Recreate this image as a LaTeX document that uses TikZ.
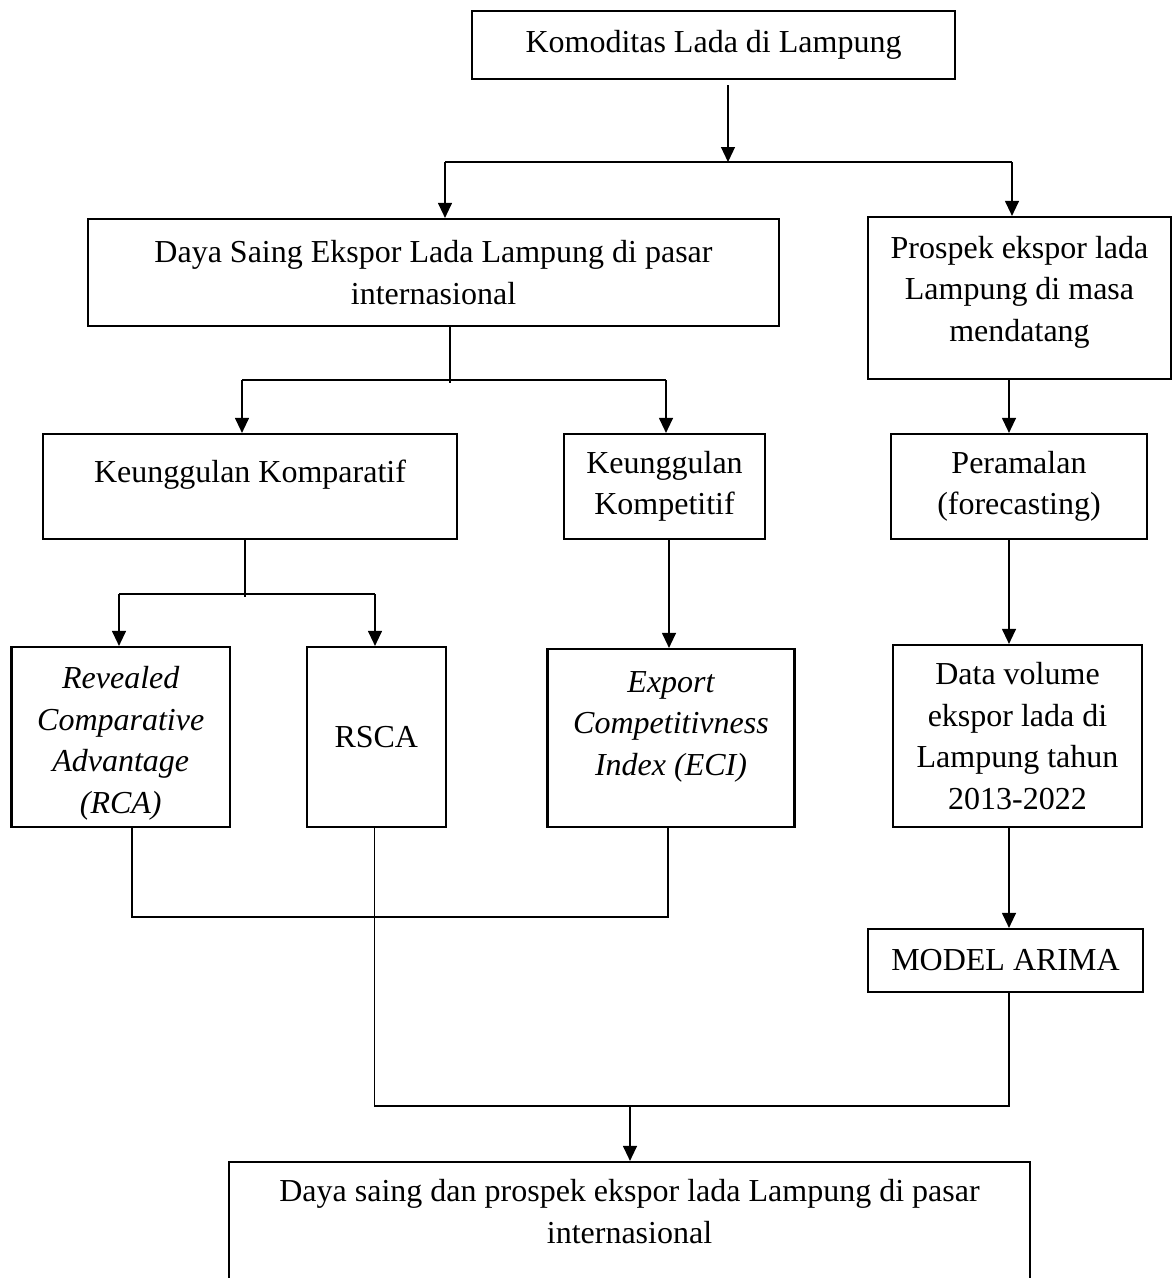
\documentclass[tikz,border=0pt]{standalone}
\usepackage{fontspec}
\setmainfont{Liberation Serif}
\usetikzlibrary{arrows.meta}
\newcommand\figfont{\fontsize{32}{41.5}\selectfont}
\begin{document}
\begin{tikzpicture}[x=1pt,y=-1pt,
  bx/.style={draw, line width=2.2pt, inner sep=0pt, align=center, font=\figfont},
  ln/.style={line width=1.2pt},
  arr/.style={line width=1.2pt, -{Triangle[length=15pt,width=14pt]}},
]
\useasboundingbox (0,0) rectangle (1174,1278);
\fill[white] (0,0) rectangle (1174,1278);
\clip (0,0) rectangle (1174,1278);

% boxes
\node[bx, minimum width=483pt, minimum height=68pt] (top) at (713.5,45) {Komoditas Lada di Lampung};
\node[bx, minimum width=691pt, minimum height=107pt] (daya) at (433.5,272.5) {Daya Saing Ekspor Lada Lampung di pasar\\internasional};
\node[bx, minimum width=303pt, minimum height=162pt, text height=105pt, text depth=19pt] (prospek) at (1019.5,298) {Prospek ekspor lada\\Lampung di masa\\mendatang};
\node[bx, minimum width=414pt, minimum height=105pt, text height=22pt, text depth=31pt] (komparatif) at (250,486.5) {Keunggulan Komparatif};
\node[bx, minimum width=201pt, minimum height=105pt] (kompetitif) at (664.5,486.5) {Keunggulan\\Kompetitif};
\node[bx, minimum width=256pt, minimum height=105pt] (peramalan) at (1019,486.5) {Peramalan\\(forecasting)};
\node[bx, minimum width=218.5pt, minimum height=180pt, font=\figfont\itshape, text height=152pt, text depth=0pt] (rca) at (120.75,737) {Revealed\\Comparative\\Advantage\\(RCA)};
\node[bx, minimum width=138.6pt, minimum height=180pt] (rsca) at (376.3,737) {RSCA};
\node[bx, minimum width=247pt, minimum height=178pt, font=\figfont\itshape, text height=104pt, text depth=30pt] (eci) at (671,738) {Export\\Competitivness\\Index (ECI)};
\node[bx, minimum width=249pt, minimum height=182pt] (data) at (1017.5,736) {Data volume\\ekspor lada di\\Lampung tahun\\2013-2022};
\node[bx, minimum width=275pt, minimum height=63pt] (arima) at (1005.5,960.5) {MODEL ARIMA};
\node[bx, minimum width=801pt, minimum height=138pt, text height=63.5pt, text depth=39.5pt] (final) at (629.5,1231) {Daya saing dan prospek ekspor lada Lampung di pasar\\internasional};

% connectors
\coordinate (a0) at (728,85);
\coordinate (a1) at (728,162);
\coordinate (aL) at (445,162);
\coordinate (aR) at (1012,162);
\draw[arr] (a0) -- (a1);
\draw[ln] (aL) -- (aR);
\draw[arr] (aL) -- (aL |- daya.north);
\draw[arr] (aR) -- (aR |- prospek.north);

\coordinate (b0) at (450,383);
\coordinate (bL) at (242,380);
\coordinate (bR) at (666,380);
\draw[ln] (daya.south -| b0) -- (b0);
\draw[ln] (bL) -- (bR);
\draw[arr] (bL) -- (bL |- komparatif.north);
\draw[arr] (bR) -- (bR |- kompetitif.north);

\coordinate (c0) at (1009,379);
\draw[arr] (prospek.south -| c0) -- (c0 |- peramalan.north);

\coordinate (d0) at (245,597);
\coordinate (dL) at (119,594);
\coordinate (dR) at (375,594);
\draw[ln] (komparatif.south -| d0) -- (d0);
\draw[ln] (dL) -- (dR);
\draw[arr] (dL) -- (dL |- rca.north);
\draw[arr] (dR) -- (dR |- rsca.north);

\coordinate (e0) at (669,600);
\draw[arr] (kompetitif.south -| e0) -- (e0 |- eci.north);

\draw[arr] (peramalan.south -| c0) -- (c0 |- data.north);
\draw[arr] (data.south -| c0) -- (c0 |- arima.north);

\coordinate (fL) at (132,917);
\coordinate (fR) at (668,917);
\draw[ln] (rca.south -| fL) -- (fL) -- (fR) -- (eci.south -| fR);

\coordinate (gL) at (374.5,1106);
\coordinate (gR) at (1009,1106);
\coordinate (gM) at (630,1106);
\draw[ln] (rsca.south -| gL) -- (gL) -- (gR) -- (arima.south -| gR);
\draw[arr] (gM) -- (gM |- final.north);
\end{tikzpicture}
\end{document}
